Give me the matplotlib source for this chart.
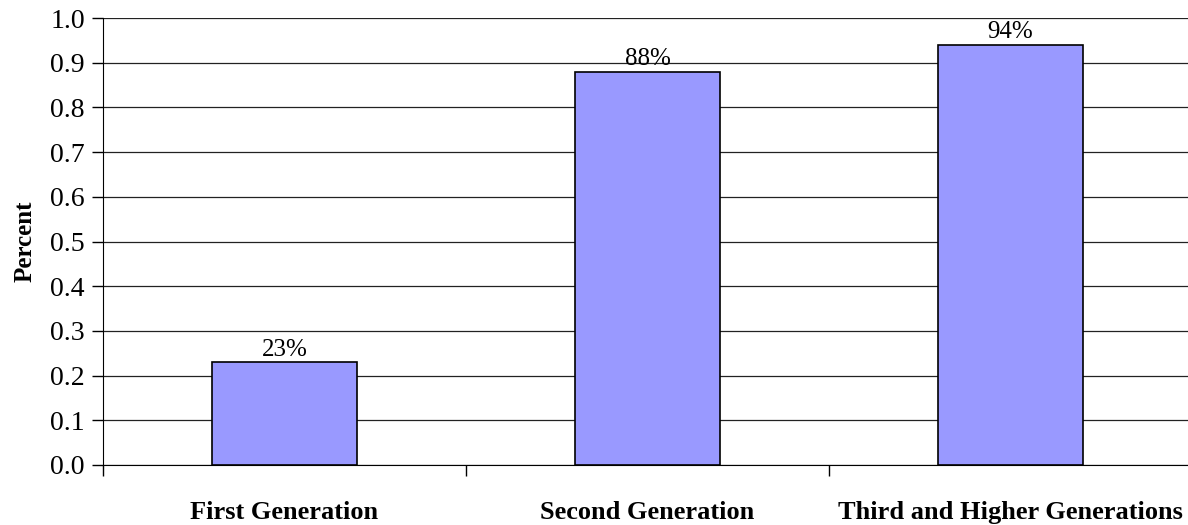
import matplotlib.pyplot as plt
import numpy as np

# data
categories = ['First Generation', 'Second Generation', 'Third and Higher Generations']
values = [0.23, 0.88, 0.94]
labels = ['23%', '88%', '94%']

plt.rcParams['font.family'] = ['Liberation Serif', 'DejaVu Serif']

fig = plt.figure(figsize=(11.88, 5.25), dpi=100)
ax = fig.add_axes([103 / 1188, 60 / 525, 1089 / 1188, 447 / 525])

x = np.arange(len(categories))
ax.bar(x, values, width=0.4, color='#9999FF', edgecolor='black', linewidth=1.2, zorder=3)
for xi, v, lab in zip(x, values, labels):
    ax.text(xi, v + 0.003, lab, ha='center', va='bottom', fontsize=18, zorder=4)

ax.set_xlim(-0.5, 2.5)
ax.set_ylim(0, 1.0)
ax.set_yticks(np.arange(0, 1.01, 0.1))
ax.set_yticklabels([f'{t:.1f}' for t in np.arange(0, 1.01, 0.1)], fontsize=20)
ax.yaxis.grid(True, color='#222222', linewidth=0.9, zorder=0)

ax.set_xticks(x)
ax.set_xticklabels(categories, fontsize=19, fontweight='bold')
ax.tick_params(axis='x', which='major', length=0, pad=26)
ax.set_xticks([-0.5, 0.5, 1.5, 2.5], minor=True)
ax.tick_params(axis='x', which='minor', length=8, width=1, direction='out')
ax.tick_params(axis='y', length=8, width=1, direction='out', pad=5)

ax.spines['top'].set_visible(False)
ax.spines['right'].set_visible(False)
ax.set_ylabel('Percent', fontsize=18, fontweight='bold', labelpad=10)

fig.savefig('out.png', dpi=100)
